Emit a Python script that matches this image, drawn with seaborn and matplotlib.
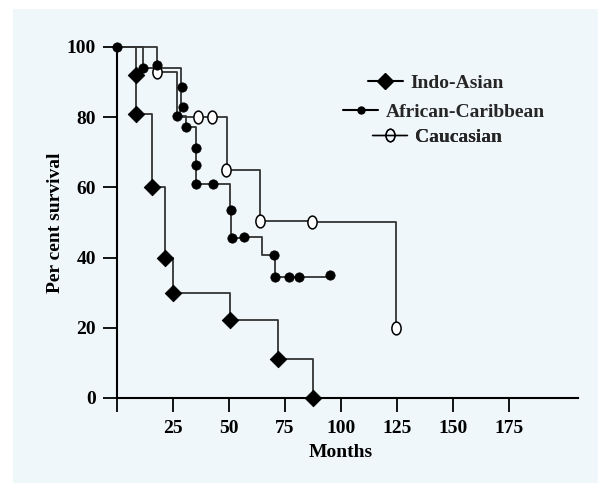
import numpy as np
import pandas as pd
import matplotlib
matplotlib.use("Agg")
import matplotlib.pyplot as plt
import seaborn as sns
from matplotlib.path import Path
from matplotlib.lines import Line2D
from matplotlib.patches import Rectangle

# Indo-Asian survival steps (months, per cent)
indo_months = [0, 8.5, 8.5, 15.5, 21.5, 25, 50.5, 72, 87.5]
indo_surv = [100, 92, 81, 60, 40, 30, 22.2, 11, 0]

# African-Caribbean survival steps
afro_months = [0, 11.5, 18, 28.5, 28.5, 28, 31, 35.5, 35.5, 35.5, 43, 50.5, 50.8, 56.7, 65, 70, 70.5, 77, 81.4, 95.4]
afro_surv = [100, 94, 94, 88.7, 83, 80.3, 77.3, 71.3, 66.4, 61, 61, 53.7, 45.5, 46, 40.7, 40.7, 34.6, 34.6, 34.6, 34.6]
afro_mark_months = [0, 11.5, 18, 29, 29.6, 26.8, 31, 35.5, 35.5, 35.5, 43, 50.8, 51.4, 56.7, 70, 70.5, 77, 81.4, 95.4]
afro_mark_surv = [100, 94, 94.8, 88.7, 83, 80.3, 77.3, 71.3, 66.4, 61, 61, 53.7, 45.5, 46, 40.7, 34.6, 34.6, 34.6, 35]

# Caucasian survival steps
cauc_months = [0, 18, 27, 36, 42.5, 49, 63.8, 87, 124.8]
cauc_surv = [100, 93, 80, 80, 80, 65, 50.4, 50, 20]
cauc_mark_months = [18, 36, 42.5, 48.5, 63.8, 87, 124.8]
cauc_mark_surv = [93, 80, 80, 65, 50.4, 50, 20]

x_ticks = [0, 25, 50, 75, 100, 125, 150, 175]
x_labels = ["", "25", "50", "75", "100", "125", "150", "175"]
y_ticks = [0, 20, 40, 60, 80, 100]

sns.set_theme(style="white")
plt.rcParams["font.family"] = ["Liberation Serif", "DejaVu Serif"]
plt.rcParams["font.weight"] = "bold"

line_col = "#333333"
bg = "#f0f7fb"
fs = 14

# tall ellipse marker for the open circles
circ = Path.unit_circle()
ellipse = Path(circ.vertices * np.array([0.72, 1.0]), circ.codes)

fig = plt.figure(figsize=(5.98, 4.83), dpi=100)
fig.patches.append(Rectangle((13 / 598, 0), 1, 1 - 9 / 483, transform=fig.transFigure,
                             facecolor=bg, edgecolor="none", zorder=-10))
ax = fig.add_axes([117 / 598, 1 - 398 / 483, (578 - 117) / 598, (398 - 47) / 483])
ax.set_facecolor("none")
ax.patch.set_alpha(0)

for mx, sv in [(indo_months, indo_surv), (afro_months, afro_surv), (cauc_months, cauc_surv)]:
    sns.lineplot(x=mx, y=sv, sort=False, estimator=None, drawstyle="steps-post",
                 color=line_col, linewidth=1.3, ax=ax, clip_on=False)

sns.scatterplot(x=cauc_mark_months, y=cauc_mark_surv, marker=ellipse, s=85,
                facecolor="white", edgecolor="black", linewidth=1.1, ax=ax, clip_on=False, zorder=3)
sns.scatterplot(x=afro_mark_months, y=afro_mark_surv, marker="o", s=45,
                color="black", edgecolor="black", ax=ax, clip_on=False, zorder=4)
sns.scatterplot(x=indo_months[1:], y=indo_surv[1:], marker="D", s=70,
                color="black", edgecolor="black", ax=ax, clip_on=False, zorder=5)

ax.set_xlim(0, 206)
ax.set_ylim(0, 100)
ax.set_xticks(x_ticks)
ax.set_xticklabels(x_labels)
ax.set_yticks(y_ticks)
sns.despine(ax=ax)
for s in ["left", "bottom"]:
    ax.spines[s].set_color("black")
    ax.spines[s].set_linewidth(1.5)
ax.tick_params(axis="both", direction="out", length=10, width=1.3, color="black",
               labelsize=fs, labelcolor="black", bottom=True, left=True)
ax.tick_params(axis="x", pad=6)
ax.tick_params(axis="y", pad=5)
for lab in ax.get_xticklabels() + ax.get_yticklabels():
    lab.set_fontweight("bold")

ax.set_xlabel("Months", fontsize=fs, fontweight="bold", color="black")
ax.xaxis.set_label_coords((341 - 117) / (578 - 117), -(444 - 398) / (398 - 47))
ax.set_ylabel("Per cent survival", fontsize=fs, fontweight="bold", color="black")
ax.yaxis.set_label_coords(-(117 - 64) / (578 - 117), 0.5)

# one centred legend entry per group
entries = [
    ("Indo-Asian", Line2D([], [], color="black", lw=1.5, marker="D", ms=8), (436, 83)),
    ("African-Caribbean", Line2D([], [], color="black", lw=1.5, marker="o", ms=5), (444, 112)),
    ("Caucasian", Line2D([], [], color="black", lw=1.0, marker=ellipse, ms=9,
                         markerfacecolor="none", markeredgecolor="black"), (437, 137)),
]
for name, h, (cx, cy) in entries:
    leg = ax.legend(handles=[h], labels=[name], loc="center", frameon=False,
                    bbox_to_anchor=(cx / 598, 1 - cy / 483), bbox_transform=fig.transFigure,
                    handlelength=1.8, handletextpad=0.4, borderpad=0, borderaxespad=0,
                    prop={"family": "Liberation Serif", "weight": "bold", "size": fs})
    ax.add_artist(leg)

fig.savefig("out.png", dpi=100)
